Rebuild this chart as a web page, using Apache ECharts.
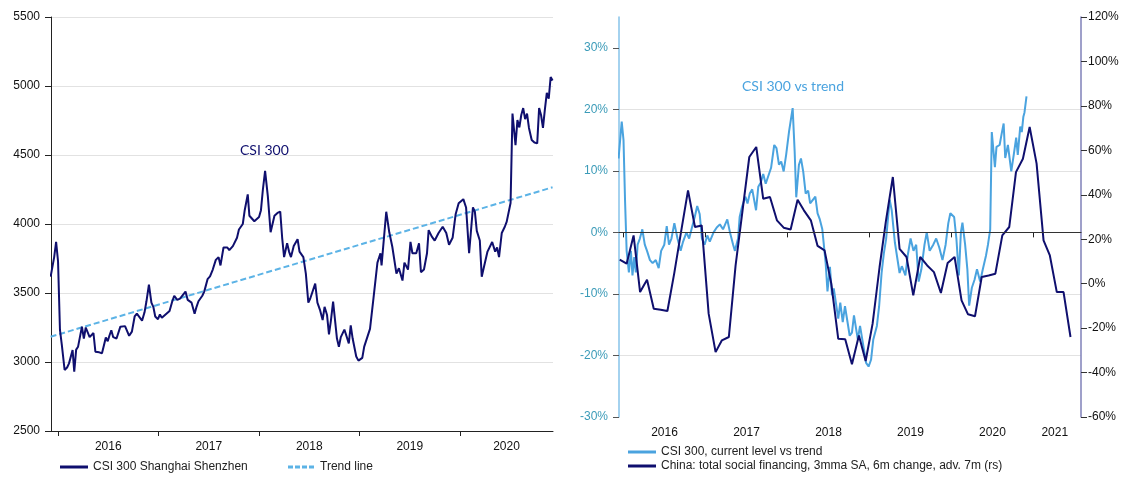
<!DOCTYPE html>
<html><head><meta charset="utf-8">
<script src="https://cdn.jsdelivr.net/npm/echarts@6/dist/echarts.min.js"></script>
<style>html,body{margin:0;padding:0;background:#fff}#c{width:1131px;height:479px}</style>
</head><body><div id="c"></div>
<script>
// ---------- DATA ----------
const leftYears = [2016, 2017, 2018, 2019, 2020];
const rightYears = [2016, 2017, 2018, 2019, 2020, 2021];
const leftYTicks = [2500, 3000, 3500, 4000, 4500, 5000, 5500];

// CSI 300 index level (weekly-ish)
const csi300 = [
['2015-12-05',3618],['2015-12-18',3760],['2015-12-25',3870],['2016-01-01',3730],['2016-01-08',3232],
['2016-01-15',3120],['2016-01-25',2942],['2016-02-03',2960],['2016-02-10',2990],['2016-02-23',3087],
['2016-02-29',2930],['2016-03-07',3090],['2016-03-14',3111],['2016-03-21',3100],['2016-03-28',3256],
['2016-04-04',3170],['2016-04-11',3250],['2016-04-18',3240],['2016-04-25',3180],['2016-05-09',3210],
['2016-05-16',3075],['2016-05-23',3085],['2016-05-30',3070],['2016-06-09',3063],['2016-06-16',3120],
['2016-06-23',3178],['2016-06-30',3150],['2016-07-06',3190],['2016-07-13',3230],['2016-07-20',3180],
['2016-08-01',3170],['2016-08-15',3256],['2016-08-22',3266],['2016-09-01',3260],['2016-09-16',3190],
['2016-09-26',3220],['2016-10-06',3330],['2016-10-14',3350],['2016-10-21',3340],['2016-11-02',3300],
['2016-11-11',3360],['2016-11-18',3440],['2016-11-27',3560],['2016-12-06',3430],['2016-12-13',3400],
['2016-12-20',3330],['2016-12-30',3310],['2017-01-06',3345],['2017-01-13',3320],['2017-01-20',3330],
['2017-02-10',3370],['2017-02-20',3440],['2017-02-27',3480],['2017-03-10',3450],['2017-03-20',3460],
['2017-03-27',3470],['2017-04-09',3510],['2017-04-17',3450],['2017-05-01',3430],['2017-05-12',3350],
['2017-05-19',3400],['2017-05-26',3440],['2017-06-09',3480],['2017-06-16',3510],['2017-06-28',3600],
['2017-07-07',3620],['2017-07-17',3670],['2017-07-28',3740],['2017-08-07',3760],['2017-08-14',3700],
['2017-08-25',3830],['2017-09-08',3830],['2017-09-15',3810],['2017-09-28',3840],['2017-10-13',3900],
['2017-10-20',3960],['2017-11-03',4000],['2017-11-10',4100],['2017-11-21',4215],['2017-11-27',4060],
['2017-12-04',4050],['2017-12-15',4020],['2017-12-22',4030],['2018-01-01',4050],['2018-01-08',4100],
['2018-01-15',4250],['2018-01-23',4385],['2018-02-02',4200],['2018-02-12',3940],['2018-02-26',4060],
['2018-03-09',4080],['2018-03-19',4090],['2018-03-26',3900],['2018-04-02',3760],['2018-04-13',3860],
['2018-04-20',3800],['2018-04-27',3760],['2018-05-07',3840],['2018-05-21',3890],['2018-05-28',3800],
['2018-06-11',3760],['2018-06-20',3640],['2018-06-29',3430],['2018-07-06',3460],['2018-07-13',3450],
['2018-07-24',3568],['2018-08-01',3430],['2018-08-10',3380],['2018-08-20',3304],['2018-08-27',3400],
['2018-09-05',3340],['2018-09-12',3200],['2018-09-19',3300],['2018-09-27',3437],['2018-10-11',3170],
['2018-10-18',3111],['2018-10-25',3180],['2018-11-07',3235],['2018-11-14',3235],['2018-11-23',3135],
['2018-11-30',3266],['2018-12-07',3170],['2018-12-20',3040],['2018-12-28',3010],['2019-01-11',3030],
['2019-01-18',3111],['2019-02-08',3240],['2019-02-21',3468],['2019-03-07',3720],['2019-03-18',3788],
['2019-03-22',3700],['2019-04-08',4089],['2019-04-19',3940],['2019-04-30',3835],['2019-05-15',3640],
['2019-05-24',3680],['2019-06-06',3590],['2019-06-13',3720],['2019-06-26',3670],['2019-07-05',3870],
['2019-07-12',3788],['2019-07-26',3788],['2019-08-05',3860],['2019-08-12',3650],['2019-08-23',3670],
['2019-09-03',3788],['2019-09-09',3956],['2019-09-20',3910],['2019-10-01',3880],['2019-10-15',3935],
['2019-10-30',3980],['2019-11-12',3935],['2019-11-22',3850],['2019-12-05',3900],['2019-12-16',4070],
['2019-12-27',4150],['2020-01-13',4180],['2020-01-23',4120],['2020-02-03',3788],['2020-02-17',4120],
['2020-02-24',4090],['2020-03-02',3950],['2020-03-13',3880],['2020-03-20',3618],['2020-03-27',3680],
['2020-04-10',3800],['2020-04-17',3810],['2020-04-27',3870],['2020-05-08',3800],['2020-05-15',3830],
['2020-05-22',3760],['2020-06-01',3935],['2020-06-12',3980],['2020-06-19',4017],['2020-07-03',4152],
['2020-07-10',4800],['2020-07-21',4572],['2020-07-28',4753],['2020-08-04',4700],['2020-08-11',4790],
['2020-08-18',4840],['2020-08-25',4760],['2020-09-01',4800],['2020-09-08',4696],['2020-09-18',4609],
['2020-09-28',4590],['2020-10-08',4584],['2020-10-15',4840],['2020-10-22',4790],['2020-10-29',4696],
['2020-11-05',4830],['2020-11-12',4950],['2020-11-19',4909],['2020-11-26',5065],['2020-12-03',5040]
];
const trendLine = [['2015-12-05',3183],['2020-12-03',4266]];

// CSI 300 current level vs trend (%)
const csiVsTrend = [
['2015-12-10',12],['2015-12-24',18],['2016-01-01',15],['2016-01-08',5],['2016-01-15',-3],
['2016-01-25',-6.5],['2016-02-03',-3],['2016-02-10',-7],['2016-02-18',-4],['2016-02-25',-6.5],
['2016-03-04',-2],['2016-03-14',-1],['2016-03-25',0.5],['2016-04-05',-2],['2016-04-15',-3],
['2016-04-28',-4.5],['2016-05-10',-5],['2016-05-24',-4.5],['2016-06-06',-5.8],['2016-06-17',-3],
['2016-07-01',-2],['2016-07-12',1],['2016-07-22',-2],['2016-08-02',-1],['2016-08-15',1.5],
['2016-08-29',-1],['2016-09-12',-3],['2016-09-23',-1.5],['2016-10-08',0],['2016-10-20',-1],
['2016-11-03',1],['2016-11-14',2.5],['2016-11-25',4.3],['2016-12-06',3],['2016-12-16',-1],
['2016-12-28',-2],['2017-01-09',-0.5],['2017-01-20',-1.5],['2017-02-06',0],['2017-02-20',0.8],
['2017-03-06',1.3],['2017-03-20',0.5],['2017-04-08',2.1],['2017-04-20',0],['2017-05-04',-2],
['2017-05-12',-3],['2017-05-26',-1],['2017-06-02',2.5],['2017-06-13',4.2],['2017-06-28',5.8],
['2017-07-07',4.7],['2017-07-17',6.3],['2017-07-28',7],['2017-08-14',3.6],['2017-08-24',7.4],
['2017-09-04',8.1],['2017-09-15',9.5],['2017-09-26',7.9],['2017-10-20',10.5],['2017-11-03',14.2],
['2017-11-13',13.7],['2017-11-24',11],['2017-12-04',11.5],['2017-12-15',9.9],['2017-12-26',12.6],
['2018-01-08',16.4],['2018-01-24',20.2],['2018-02-02',13.1],['2018-02-09',5.7],['2018-02-21',11],
['2018-03-02',12],['2018-03-12',9.9],['2018-03-23',6.3],['2018-04-03',6.8],['2018-04-12',4.7],
['2018-05-05',5.8],['2018-05-15',3.1],['2018-05-25',2.1],['2018-06-05',0.5],['2018-06-20',-5],
['2018-06-28',-9.6],['2018-07-09',-5.6],['2018-07-18',-10.2],['2018-07-26',-9.1],['2018-08-15',-14],
['2018-08-24',-11.4],['2018-09-04',-14.6],['2018-09-14',-12],['2018-10-05',-16.8],['2018-10-15',-16.3],
['2018-10-24',-13.5],['2018-11-10',-17.4],['2018-11-20',-15.2],['2018-12-05',-18.5],['2018-12-17',-21.2],
['2018-12-28',-21.8],['2019-01-08',-20.7],['2019-01-18',-17.4],['2019-02-03',-15.2],['2019-02-13',-12],
['2019-02-24',-6.6],['2019-03-06',-3.4],['2019-03-16',-1.1],['2019-03-24',2.1],['2019-04-01',5.3],
['2019-04-10',3.6],['2019-04-24',-1.6],['2019-05-15',-6.6],['2019-05-25',-5.5],['2019-06-10',-7],
['2019-06-20',-3.8],['2019-07-03',-1],['2019-07-16',-3],['2019-07-28',-2],['2019-08-08',-8],
['2019-08-20',-6],['2019-09-03',-2],['2019-09-13',0],['2019-09-26',-3],['2019-10-12',-2],
['2019-10-25',-1],['2019-11-08',-2.5],['2019-11-22',-4.5],['2019-12-06',-2],['2019-12-18',1.5],
['2019-12-27',3.1],['2020-01-13',2.5],['2020-01-23',-1],['2020-02-03',-7],['2020-02-12',0],
['2020-02-19',1.6],['2020-03-02',-2],['2020-03-12',-6],['2020-03-20',-11.9],['2020-04-01',-9],
['2020-04-13',-7.7],['2020-04-24',-6],['2020-05-08',-8],['2020-05-20',-6],['2020-06-03',-3.8],
['2020-06-12',-2],['2020-06-22',0.5],['2020-06-29',16.3],['2020-07-13',10.6],['2020-07-20',13.9],
['2020-08-03',14.2],['2020-08-12',16],['2020-08-21',17.7],['2020-08-28',12.1],['2020-09-09',14.2],
['2020-09-24',9.9],['2020-10-05',12.6],['2020-10-16',15.4],['2020-10-23',12.6],['2020-11-03',17.2],
['2020-11-10',16.3],['2020-11-17',18.8],['2020-11-22',19.5],['2020-12-01',22.1]
];

// China total social financing, 3mma SA, 6m change, adv. 7m (%), right scale
const tsf = [
['2015-12-15',10.8],['2016-01-15',9],['2016-02-15',21.7],['2016-03-15',-3.8],['2016-04-15',1.8],
['2016-05-15',-11.3],['2016-06-15',-11.7],['2016-07-15',-12.3],['2016-08-15',5],['2016-09-15',24],
['2016-10-15',42],['2016-11-15',25.5],['2016-12-15',26.2],['2017-01-15',-13.5],['2017-02-15',-30.8],
['2017-03-15',-25.5],['2017-04-15',-24],['2017-05-15',8.2],['2017-06-15',33],['2017-07-15',57],
['2017-08-15',61.5],['2017-09-15',38.2],['2017-10-15',39],['2017-11-15',28.5],['2017-12-15',25.2],
['2018-01-15',24.4],['2018-02-15',37.8],['2018-03-15',33],['2018-04-15',28.5],['2018-05-15',17],
['2018-06-15',15],['2018-07-15',0],['2018-08-15',-24.8],['2018-09-15',-25],['2018-10-15',-36.3],
['2018-11-15',-23.3],['2018-12-15',-34.8],['2019-01-15',-18],['2019-02-15',7.5],['2019-03-15',28],
['2019-04-15',48],['2019-05-15',15.7],['2019-06-15',12],['2019-07-15',-5.3],['2019-08-15',12],
['2019-09-15',8.2],['2019-10-15',5.2],['2019-11-15',-4.2],['2019-12-15',9.3],['2020-01-15',12],
['2020-02-15',-7.5],['2020-03-15',-13.8],['2020-04-15',-14.7],['2020-05-15',3],['2020-06-15',3.7],
['2020-07-15',4.5],['2020-08-15',21.7],['2020-09-15',25.5],['2020-10-15',50.2],['2020-11-15',56.2],
['2020-12-15',70.5],['2021-01-15',54],['2021-02-15',19.5],['2021-03-15',12.7],['2021-04-15',-3.8],
['2021-05-15',-3.8],['2021-06-15',-24]
];

// ---------- HELPERS ----------
function toYear(s) {
  const [y, m, d] = s.split('-').map(Number);
  const a = Date.UTC(y, 0, 1), b = Date.UTC(y + 1, 0, 1);
  return y + (Date.UTC(y, m - 1, d) - a) / (b - a);
}
const conv = arr => arr.map(p => [toYear(p[0]), p[1]]);

const NAVY = '#0f0f6e', LBLUE = '#4aa3df', TRENDC = '#5cb3e6';
const FONT = 'Liberation Sans';
const leftMin = 2015.93, leftMax = 2020.925;
const rightMin = 2015.945, rightMax = 2021.58;
const SOLID_ICON = 'path://M0,0H28V3H0Z';
const DASH_ICON = 'path://M0,0H5V3H0Z M7,0H12V3H7Z M14,0H19V3H14Z M21,0H26V3H21Z';

const chart = echarts.init(document.getElementById('c'), null, {renderer: 'canvas'});
chart.setOption({
  animation: false,
  backgroundColor: '#fff',
  textStyle: {fontFamily: FONT},
  grid: [
    {left: 51, right: 578, top: 17, bottom: 48, outerBoundsMode: 'none'},
    {left: 619, right: 50, top: 17, bottom: 62, outerBoundsMode: 'none'}
  ],
  xAxis: [
    {type: 'value', gridIndex: 0, min: leftMin, max: leftMax,
     axisLine: {lineStyle: {color: '#222', width: 1}},
     axisTick: {customValues: leftYears, length: 5, inside: false, lineStyle: {color: '#222'}},
     axisLabel: {customValues: leftYears.map(y => y < 2020 ? y + 0.5 : (y + leftMax) / 2),
                 formatter: v => String(Math.floor(v)), color: '#111', fontSize: 12, fontFamily: FONT, margin: 10},
     splitLine: {show: false}},
    {type: 'value', gridIndex: 1, min: rightMin, max: rightMax,
     axisLine: {lineStyle: {color: '#222', width: 1}},
     axisTick: {customValues: rightYears, length: 5, inside: false, lineStyle: {color: '#222'}},
     axisLabel: {customValues: rightYears.map(y => y < 2021 ? y + 0.5 : 2021.26),
                 formatter: v => String(Math.floor(v)), color: '#111', fontSize: 12, fontFamily: FONT, margin: 10},
     splitLine: {show: false}}
  ],
  yAxis: [
    {type: 'value', gridIndex: 0, min: leftYTicks[0], max: leftYTicks[leftYTicks.length - 1], interval: 500,
     axisLine: {show: true, lineStyle: {color: '#222'}},
     axisTick: {show: true, inside: false, length: 6, lineStyle: {color: '#222'}},
     axisLabel: {formatter: v => String(v), color: '#111', fontSize: 12, fontFamily: FONT, margin: 11},
     splitLine: {show: true, showMinLine: false, lineStyle: {color: '#e2e2e2', width: 1}}},
    {type: 'value', gridIndex: 1, position: 'left', min: -30, max: 35, interval: 10,
     axisLine: {show: true, lineStyle: {color: '#86c3ea', width: 1.5}},
     axisTick: {show: true, inside: false, customValues: [-30, -20, -10, 0, 10, 20, 30], length: 6, lineStyle: {color: '#555'}},
     axisLabel: {customValues: [-30, -20, -10, 0, 10, 20, 30], formatter: v => v + '%', color: '#3b9bb8', fontSize: 12, fontFamily: FONT, margin: 11},
     splitLine: {show: true, showMinLine: false, showMaxLine: false, lineStyle: {color: '#e2e2e2', width: 1}}},
    {type: 'value', gridIndex: 1, position: 'right', min: -60, max: 120, interval: 20,
     axisLine: {show: true, lineStyle: {color: '#7f80b8', width: 1.5}},
     axisTick: {show: true, inside: false, length: 6, lineStyle: {color: '#333'}},
     axisLabel: {formatter: v => v + '%', color: '#111', fontSize: 12, fontFamily: FONT, margin: 7},
     splitLine: {show: false}}
  ],
  legend: [
    {left: 60, top: 461, padding: 0, itemWidth: 28, itemHeight: 3, itemGap: 0,
     textStyle: {color: '#222', fontSize: 12, fontFamily: FONT}, data: [{name: 'CSI 300 Shanghai Shenzhen', icon: SOLID_ICON}]},
    {left: 288, top: 461, padding: 0, itemWidth: 28, itemHeight: 3, itemGap: 0,
     textStyle: {color: '#222', fontSize: 12, fontFamily: FONT}, data: [{name: 'Trend line', icon: DASH_ICON}]},
    {left: 628, top: 446, padding: 0, orient: 'vertical', itemWidth: 28, itemHeight: 3, itemGap: 2,
     textStyle: {color: '#222', fontSize: 12, fontFamily: FONT},
     data: [{name: 'CSI 300, current level vs trend', icon: SOLID_ICON},
            {name: 'China: total social financing, 3mma SA, 6m change, adv. 7m (rs)', icon: SOLID_ICON}]}
  ],
  graphic: [
    {type: 'text', left: 240, top: 143, style: {text: 'CSI 300', fill: NAVY, font: '14px Lato'}},
    {type: 'text', left: 742, top: 79, style: {text: 'CSI 300 vs trend', fill: LBLUE, font: '14px Lato'}}
  ],
  series: [
    {name: 'Trend line', type: 'line', xAxisIndex: 0, yAxisIndex: 0, data: conv(trendLine),
     symbol: 'none', lineStyle: {color: TRENDC, width: 2, type: [6, 3]}, itemStyle: {color: TRENDC}},
    {name: 'CSI 300 Shanghai Shenzhen', type: 'line', xAxisIndex: 0, yAxisIndex: 0, data: conv(csi300),
     symbol: 'none', lineStyle: {color: NAVY, width: 2}, itemStyle: {color: NAVY}},
    {name: 'CSI 300, current level vs trend', type: 'line', xAxisIndex: 1, yAxisIndex: 1, data: conv(csiVsTrend),
     symbol: 'none', lineStyle: {color: LBLUE, width: 2}, itemStyle: {color: LBLUE},
     markLine: {silent: true, symbol: 'none', label: {show: false}, lineStyle: {color: '#333', width: 1, type: 'solid'},
                data: [{yAxis: 0}]}},
    {name: 'China: total social financing, 3mma SA, 6m change, adv. 7m (rs)', type: 'line', xAxisIndex: 1, yAxisIndex: 2, data: conv(tsf),
     symbol: 'none', lineStyle: {color: NAVY, width: 2}, itemStyle: {color: NAVY}}
  ]
});
</script></body></html>
